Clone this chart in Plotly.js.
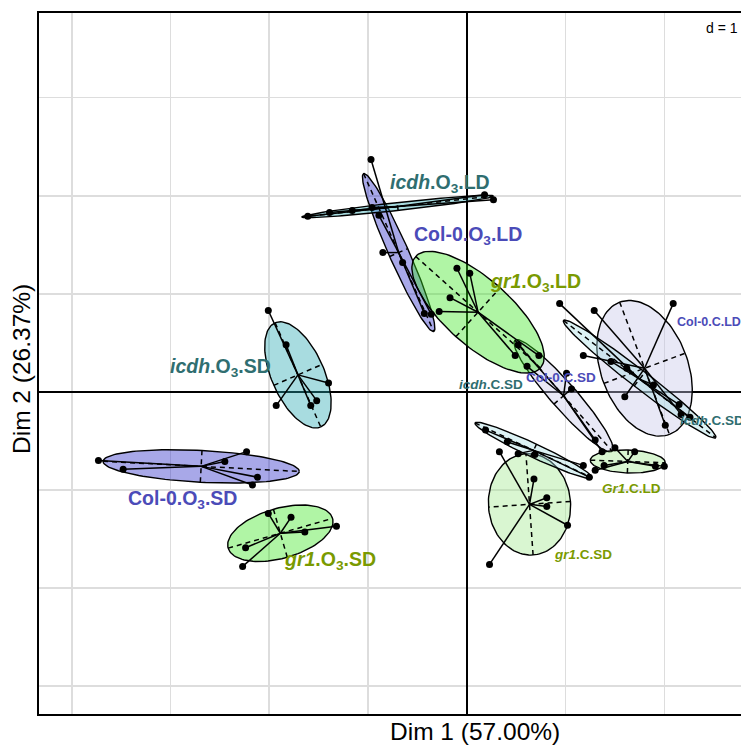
<!DOCTYPE html>
<html><head><meta charset="utf-8">
<script src="https://cdn.plot.ly/plotly-3.0.1.min.js"></script>
<style>html,body{margin:0;padding:0;overflow:hidden;background:#fff}</style>
</head><body><div id="chart"></div>
<script>
// ---- data ----
const groupNames = ["Col-0.C.LD","Col-0.C.SD","Col-0.O3.LD","Col-0.O3.SD","Gr1.C.LD","gr1.C.SD","gr1.O3.LD","gr1.O3.SD","icdh.C.SD (right)","icdh.C.SD (left)","icdh.O3.LD","icdh.O3.SD"];
const labelTexts = ["Col-0.C.LD","Col-0.C.SD","Col-0.O<sub>3</sub>.LD","Col-0.O<sub>3</sub>.SD","<i>Gr1</i>.C.LD","<i>gr1</i>.C.SD","<i>gr1</i>.O<sub>3</sub>.LD","<i>gr1</i>.O<sub>3</sub>.SD","<i>icdh</i>.C.SD","<i>icdh</i>.C.SD","<i>icdh</i>.O<sub>3</sub>.LD","<i>icdh</i>.O<sub>3</sub>.SD"];
const centerX   = [1.80, 0.98, -0.69, -2.69, 1.63, 0.635, 0.114, -1.888, 1.75, 0.676, -0.70, -1.71];
const centerY   = [0.24, -0.04, 1.42, -0.76, -0.71, -1.147, 0.812, -1.442, 0.13, -0.597, 1.89, 0.173];
const semiMajor = [0.72, 0.75, 0.88, 0.995, 0.38, 0.518, 0.85, 0.55, 0.975, 0.655, 0.975, 0.579];
const semiMinor = [0.44, 0.13, 0.10, 0.162, 0.117, 0.416, 0.335, 0.255, 0.09, 0.07, 0.04, 0.267];
const angleDeg  = [-69.5, -49, -66.2, -3, -2, 94, -42, 16, -37.8, -25.3, 6.3, -66.5];
const pointsX = [
  [1.29, 2.09, 1.18, 1.60, 2.01, 2.17],
  [0.52, 0.61, 1.01, 1.06, 1.30, 1.37],
  [-0.97, -0.89, -0.85, -0.65, -0.43, -0.36],
  [-3.73, -3.48, -2.45, -2.23, -2.12, -2.17],
  [1.50, 1.70, 1.30, 1.39, 1.91, 2.00],
  [0.33, 0.68, 0.81, 0.81, 1.02, 0.23],
  [-0.10, 0.03, -0.17, -0.28, 0.49, 0.73],
  [-2.01, -1.78, -1.64, -1.32, -2.24, -2.27],
  [0.94, 1.62, 1.89, 2.15, 2.26, 1.46],
  [0.19, 0.41, 0.52, 0.69, 1.18, 1.24],
  [-1.61, -1.39, -1.16, -0.96, 0.18, 0.27],
  [-2.01, -1.83, -1.40, -1.52, -1.58, -1.93]
];
const pointsY = [
  [0.83, 0.90, 0.37, -0.05, -0.34, -0.23],
  [0.48, 0.26, 0.19, 0.03, -0.49, -0.61],
  [2.37, 1.80, 1.42, 1.32, 0.80, 0.79],
  [-0.70, -0.79, -0.71, -0.61, -0.87, -0.95],
  [-0.57, -0.61, -0.80, -0.75, -0.76, -0.76],
  [-0.61, -0.89, -1.08, -1.17, -1.36, -1.76],
  [1.26, 1.21, 0.96, 0.82, 0.37, 0.37],
  [-1.24, -1.28, -1.43, -1.37, -1.59, -1.78],
  [0.90, 0.24, 0.07, -0.13, -0.26, 0.31],
  [-0.39, -0.51, -0.63, -0.64, -0.75, -0.87],
  [1.79, 1.83, 1.85, 1.88, 2.01, 1.96],
  [0.83, 0.48, 0.09, -0.09, -0.14, -0.14]
];
const xTitle = "Dim 1 (57.00%)";
const yTitle = "Dim 2 (26.37%)";

// ---- styles ----
const fillColors = ["rgba(198,198,233,0.4)","rgba(198,198,233,0.4)","rgba(38,38,198,0.4)","rgba(38,38,198,0.4)",
  "rgba(160,232,140,0.4)","rgba(160,232,140,0.4)","rgba(58,230,30,0.4)","rgba(58,230,30,0.4)",
  "rgba(168,222,228,0.4)","rgba(168,222,228,0.4)","rgba(38,168,178,0.4)","rgba(38,168,178,0.4)"];
const labelColors = ["#4B4BB8","#4B4BB8","#4B4BB8","#4B4BB8","#7A9A01","#7A9A01","#7A9A01","#7A9A01","#2F6E70","#2F6E70","#2F6E70","#2F6E70"];
const labelPos = [
  {x:2.11, y:0.71, s:12.5, anchor:"left"},
  {x:0.95, y:0.15, s:13.5, anchor:"center"},
  {x:0.01, y:1.59, s:19.5, anchor:"center"},
  {x:-2.88, y:-1.10, s:19.5, anchor:"center"},
  {x:1.67, y:-0.99, s:13.5, anchor:"center"},
  {x:1.18, y:-1.66, s:13.5, anchor:"center"},
  {x:0.70, y:1.12, s:19.5, anchor:"center"},
  {x:-1.39, y:-1.72, s:19.5, anchor:"center"},
  {x:2.14, y:-0.29, s:13.5, anchor:"left"},
  {x:0.24, y:0.08, s:13.5, anchor:"center"},
  {x:-0.27, y:2.12, s:19.5, anchor:"center"},
  {x:-2.49, y:0.25, s:19.5, anchor:"center"}
];

// ---- build traces ----
const traces = [];
const N = groupNames.length;
for (let g = 0; g < N; g++) {
  const th = angleDeg[g] * Math.PI / 180, c = Math.cos(th), s = Math.sin(th);
  const ex = [], ey = [];
  for (let k = 0; k <= 120; k++) {
    const t = 2 * Math.PI * k / 120;
    const u = semiMajor[g] * Math.cos(t), v = semiMinor[g] * Math.sin(t);
    ex.push(centerX[g] + u * c - v * s);
    ey.push(centerY[g] + u * s + v * c);
  }
  traces.push({type:"scatter", mode:"lines", x:ex, y:ey, fill:"toself", fillcolor:fillColors[g],
    line:{color:"#000", width:1.4}, hoverinfo:"skip", showlegend:false});
}
// ellipse axes (dashed)
const ax = [], ay = [];
for (let g = 0; g < N; g++) {
  const th = angleDeg[g] * Math.PI / 180, c = Math.cos(th), s = Math.sin(th);
  ax.push(centerX[g] - semiMajor[g]*c, centerX[g] + semiMajor[g]*c, null);
  ay.push(centerY[g] - semiMajor[g]*s, centerY[g] + semiMajor[g]*s, null);
  ax.push(centerX[g] + semiMinor[g]*s, centerX[g] - semiMinor[g]*s, null);
  ay.push(centerY[g] - semiMinor[g]*c, centerY[g] + semiMinor[g]*c, null);
}
traces.push({type:"scatter", mode:"lines", x:ax, y:ay, line:{color:"#000", width:1.5, dash:"5px,4px"}, hoverinfo:"skip", showlegend:false});
// stars
const sx = [], sy = [];
for (let g = 0; g < N; g++) {
  for (let i = 0; i < pointsX[g].length; i++) {
    sx.push(centerX[g], pointsX[g][i], null);
    sy.push(centerY[g], pointsY[g][i], null);
  }
}
traces.push({type:"scatter", mode:"lines", x:sx, y:sy, line:{color:"#000", width:1.5}, hoverinfo:"skip", showlegend:false});
// points
traces.push({type:"scatter", mode:"markers", x:pointsX.flat(), y:pointsY.flat(),
  marker:{color:"#000", size:7}, hoverinfo:"skip", showlegend:false});

// labels
const annotations = [];
for (let g = 0; g < N; g++) {
  const p = labelPos[g];
  annotations.push({x:p.x, y:p.y, xref:"x", yref:"y", text:"<b>"+labelTexts[g]+"</b>", showarrow:false,
    xanchor:p.anchor, yanchor:"middle", font:{family:"Liberation Sans, Arial, sans-serif", size:p.s, color:labelColors[g]}});
}
annotations.push({xref:"paper", yref:"paper", x:(475-39)/721, y:-(731-714)/701, text:xTitle, showarrow:false,
  xanchor:"center", yanchor:"middle", font:{family:"Liberation Sans, Arial, sans-serif", size:24.5, color:"#000"}});
annotations.push({xref:"paper", yref:"paper", x:-(39-21)/721, y:(714-369)/701, text:yTitle, showarrow:false, textangle:-90,
  xanchor:"center", yanchor:"middle", font:{family:"Liberation Sans, Arial, sans-serif", size:24.5, color:"#000"}});
annotations.push({xref:"paper", yref:"paper", x:(704-39)/721, y:(714-28)/701, text:"d = 1", showarrow:false,
  xanchor:"left", yanchor:"middle", font:{family:"Liberation Sans, Arial, sans-serif", size:14, color:"#000"}});

const layout = {
  width:780, height:745,
  margin:{l:39, r:20, t:13, b:31},
  paper_bgcolor:"#fff", plot_bgcolor:"#fff",
  showlegend:false,
  xaxis:{range:[-4.332, 2.969], dtick:1, tick0:0, showticklabels:false, ticks:"",
    showgrid:true, gridcolor:"#DDDDDD", gridwidth:1.6,
    zeroline:true, zerolinecolor:"#000", zerolinewidth:1.6,
    showline:true, linecolor:"#000", linewidth:2, mirror:true},
  yaxis:{range:[-3.285, 3.863], dtick:1, tick0:0, showticklabels:false, ticks:"",
    showgrid:true, gridcolor:"#DDDDDD", gridwidth:1.6,
    zeroline:true, zerolinecolor:"#000", zerolinewidth:1.6,
    showline:true, linecolor:"#000", linewidth:2, mirror:true},
  annotations:annotations
};
Plotly.newPlot("chart", traces, layout, {staticPlot:true, displayModeBar:false});
</script></body></html>
